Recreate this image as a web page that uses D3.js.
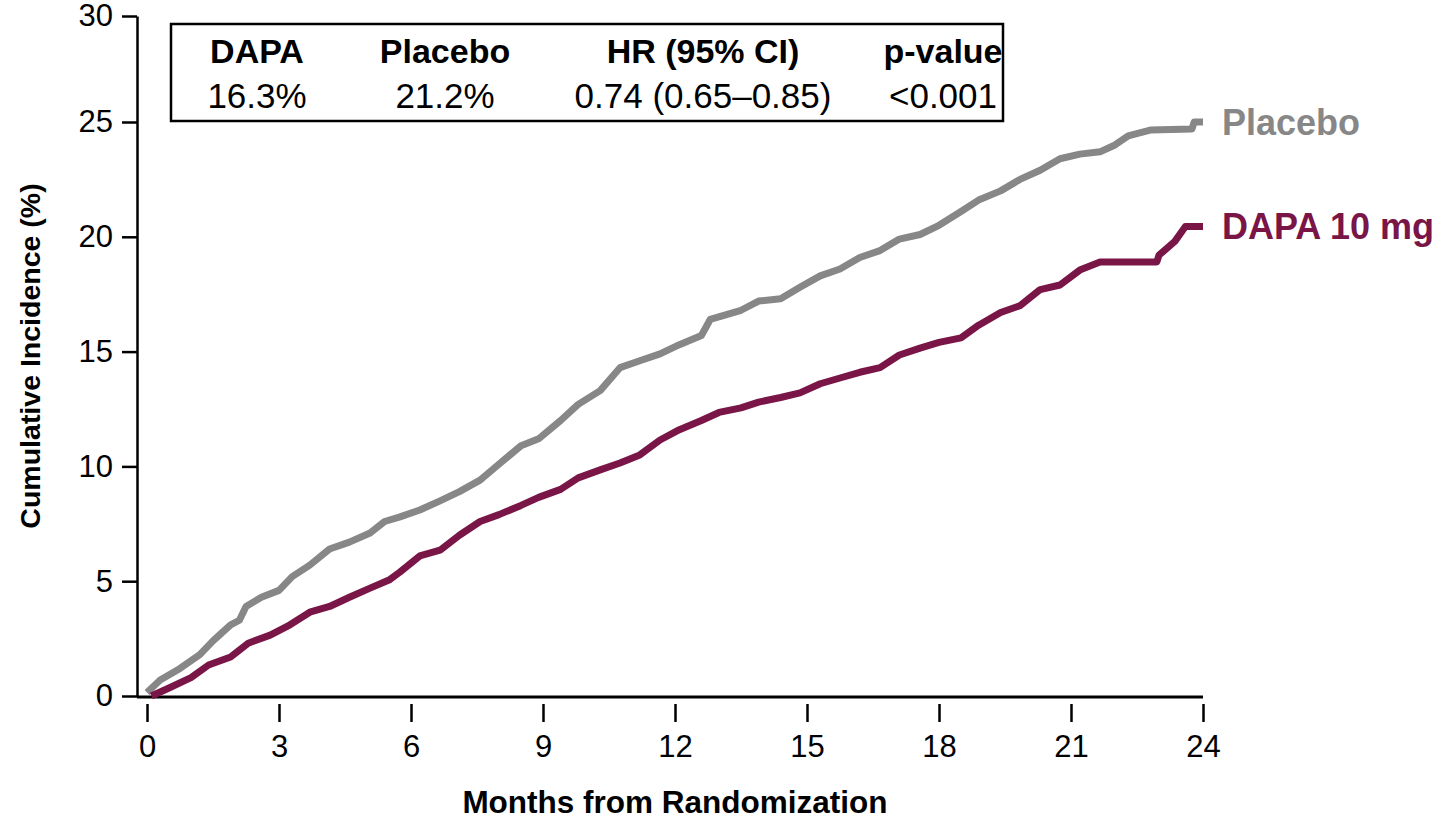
<!doctype html>
<html lang="en">
  <head>
    <meta charset="UTF-8" />
    <title>Cumulative Incidence: DAPA 10 mg vs Placebo</title>
    <script src="https://d3js.org/d3.v7.min.js"></script>
    <style>
      body {
        margin: 0;
        padding: 0;
        background: #ffffff;
        font-family: 'Liberation Sans', Arial, sans-serif;
      }
      .tick text {
        font-family: 'Liberation Sans', Arial, sans-serif;
        fill: #000000;
      }
    </style>
  </head>
  <body>
    <div id="chart"></div>

    <script>
      // Axis ticks
      const xTicks = [0, 3, 6, 9, 12, 15, 18, 21, 24]
      const yTicks = [0, 5, 10, 15, 20, 25, 30]

      // Placebo curve (months, cumulative incidence %)
      const placeboMonths = [
        0, 0.3, 0.75, 1.2, 1.5, 1.9, 2.1, 2.25, 2.6, 3.0, 3.3, 3.7, 4.15, 4.6, 5.07, 5.4,
        5.75, 6.2, 6.66, 7.1, 7.57, 8.0, 8.5, 8.9, 9.4, 9.8, 10.3, 10.75, 11.2, 11.66, 12.1,
        12.6, 12.8, 13.5, 13.9, 14.4, 14.84, 15.3, 15.75, 16.2, 16.66, 17.1, 17.57, 18.0,
        18.5, 18.9, 19.4, 19.84, 20.3, 20.75, 21.2, 21.66, 22.0, 22.3, 22.8, 23.75, 23.8, 24.0,
      ]
      const placeboPct = [
        0.15, 0.7, 1.2, 1.8, 2.4, 3.1, 3.3, 3.9, 4.3, 4.6, 5.2, 5.7, 6.4, 6.7, 7.1, 7.6,
        7.8, 8.1, 8.5, 8.9, 9.4, 10.1, 10.9, 11.2, 12.0, 12.7, 13.3, 14.3, 14.6, 14.9, 15.3,
        15.7, 16.4, 16.8, 17.2, 17.3, 17.8, 18.3, 18.6, 19.1, 19.4, 19.9, 20.1, 20.5,
        21.1, 21.6, 22.0, 22.5, 22.9, 23.4, 23.6, 23.7, 24.0, 24.4, 24.65, 24.7, 25.0, 25.0,
      ]

      // DAPA 10 mg curve (months, cumulative incidence %)
      const dapaMonths = [
        0.1, 0.5, 1.0, 1.4, 1.9, 2.3, 2.8, 3.25, 3.7, 4.15, 4.6, 5.07, 5.5, 5.75, 6.2, 6.66,
        7.1, 7.57, 8.0, 8.5, 8.9, 9.4, 9.8, 10.3, 10.75, 11.2, 11.66, 12.1, 12.6, 13.0, 13.5,
        13.9, 14.4, 14.84, 15.3, 15.75, 16.2, 16.66, 17.1, 17.57, 18.0, 18.5, 18.9, 19.4,
        19.84, 20.3, 20.75, 21.2, 21.66, 22.95, 23.0, 23.36, 23.6, 24.0,
      ]
      const dapaPct = [
        0, 0.35, 0.8, 1.35, 1.7, 2.3, 2.65, 3.1, 3.65, 3.9, 4.3, 4.7, 5.05, 5.4, 6.1, 6.35,
        7.0, 7.6, 7.9, 8.3, 8.65, 9.0, 9.5, 9.85, 10.15, 10.5, 11.15, 11.6, 12.0, 12.35, 12.55,
        12.8, 13.0, 13.2, 13.6, 13.85, 14.1, 14.3, 14.85, 15.15, 15.4, 15.6, 16.15, 16.7,
        17.0, 17.7, 17.9, 18.55, 18.9, 18.9, 19.2, 19.8, 20.45, 20.45,
      ]

      // Summary table
      const tableHeaders = ['DAPA', 'Placebo', 'HR (95% CI)', 'p-value']
      const tableValues = ['16.3%', '21.2%', '0.74 (0.65\u20130.85)', '<0.001']

      const placeboColor = '#878787'
      const dapaColor = '#7a1547'

      const width = 1445
      const height = 820

      const svg = d3
        .select('#chart')
        .append('svg')
        .attr('width', width)
        .attr('height', height)

      // Scales (the original y axis is slightly compressed between 25 and 30)
      const xScale = d3.scaleLinear().domain([0, 24]).range([147, 1203])
      const yScale = d3.scaleLinear().domain([0, 25, 30]).range([696, 122, 16])

      // Y axis
      svg
        .append('g')
        .attr('transform', 'translate(137, 0)')
        .call(d3.axisLeft(yScale).tickValues(yTicks).tickSize(15).tickSizeOuter(0).tickPadding(9))
        .call((g) => g.select('.domain').attr('stroke', '#000').attr('stroke-width', 2.5))
        .call((g) => g.selectAll('.tick line').attr('stroke', '#000').attr('stroke-width', 2.5))
        .call((g) => g.selectAll('.tick text').attr('font-size', '31px'))

      // X axis baseline
      svg
        .append('line')
        .attr('x1', 137)
        .attr('x2', xScale(24))
        .attr('y1', yScale(0) + 1)
        .attr('y2', yScale(0) + 1)
        .attr('stroke', '#000')
        .attr('stroke-width', 3)

      // X axis ticks (detached from the baseline)
      svg
        .append('g')
        .attr('transform', `translate(0, ${yScale(0) + 8})`)
        .call(d3.axisBottom(xScale).tickValues(xTicks).tickSize(18).tickPadding(13))
        .call((g) => g.select('.domain').remove())
        .call((g) => g.selectAll('.tick line').attr('stroke', '#000').attr('stroke-width', 2.5))
        .call((g) => g.selectAll('.tick text').attr('font-size', '31px'))

      // Axis titles
      svg
        .append('text')
        .attr('x', xScale(12))
        .attr('y', 813)
        .attr('text-anchor', 'middle')
        .attr('font-size', '31.5px')
        .attr('font-weight', 'bold')
        .text('Months from Randomization')

      svg
        .append('text')
        .attr('transform', 'translate(40, 356) rotate(-90)')
        .attr('text-anchor', 'middle')
        .attr('font-size', '28.5px')
        .attr('font-weight', 'bold')
        .text('Cumulative Incidence (%)')

      // Curves
      const line = d3
        .line()
        .x((d) => xScale(d[0]))
        .y((d) => yScale(d[1]))
        .curve(d3.curveLinear)

      const series = [
        { months: placeboMonths, pct: placeboPct, color: placeboColor, label: 'Placebo' },
        { months: dapaMonths, pct: dapaPct, color: dapaColor, label: 'DAPA 10 mg' },
      ]

      series.forEach((s) => {
        const pts = s.months.map((m, i) => [m, s.pct[i]])
        svg
          .append('path')
          .attr('d', line(pts))
          .attr('fill', 'none')
          .attr('stroke', s.color)
          .attr('stroke-width', 7)
          .attr('stroke-linejoin', 'round')

        // End label
        const last = pts[pts.length - 1]
        svg
          .append('text')
          .attr('x', xScale(last[0]) + 19)
          .attr('y', yScale(last[1]))
          .attr('dy', '0.36em')
          .attr('font-size', '36px')
          .attr('font-weight', 'bold')
          .attr('fill', s.color)
          .text(s.label)
      })

      // Summary box
      svg
        .append('rect')
        .attr('x', 171)
        .attr('y', 24)
        .attr('width', 832)
        .attr('height', 97)
        .attr('fill', '#fff')
        .attr('stroke', '#000')
        .attr('stroke-width', 2.5)

      const colX = [257, 445, 703, 943]

      tableHeaders.forEach((h, i) => {
        svg
          .append('text')
          .attr('x', colX[i])
          .attr('y', 63)
          .attr('text-anchor', 'middle')
          .attr('font-size', '34px')
          .attr('font-weight', 'bold')
          .text(h)
      })

      tableValues.forEach((v, i) => {
        svg
          .append('text')
          .attr('x', colX[i])
          .attr('y', 108)
          .attr('text-anchor', 'middle')
          .attr('font-size', '35px')
          .text(v)
      })
    </script>
  </body>
</html>
